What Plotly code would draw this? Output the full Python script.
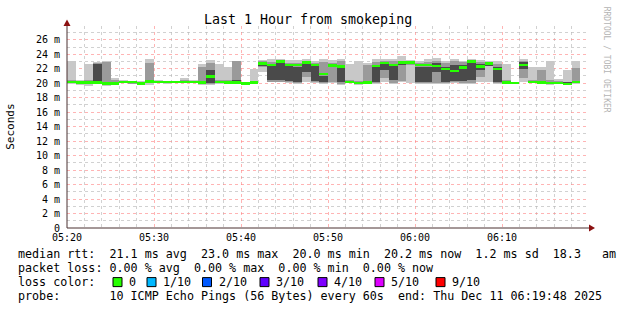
import plotly.graph_objects as go
import pandas as pd

# ---------------- data ----------------
start = pd.Timestamp("2025-12-11 05:20:00")
n_steps = 59
step_start = pd.date_range(start, periods=n_steps, freq="1min")

# outer smoke band (min .. max ping), ms
light_lo = [19.95, 19.8, 19.6, 20.0, 19.6, 19.7, 20.0, 19.9, 19.7, 19.8,
            20.0, 19.95, 20.05, 20.0, 20.0, 19.7, 19.8, 19.9, 19.95, 19.9,
            19.7, 19.9, 21.6, 20.1, 20.1, 20.0, 19.9, 20.2, 20.0, 19.9,
            20.0, 19.8, 20.0, 19.7, 19.9, 19.9, 20.1, 19.9, 20.1, 20.0,
            19.9, 19.9, 19.9, 19.9, 20.0, 19.9, 19.9, 20.1, 20.2, 19.9,
            19.9, 19.9, 20.2, 20.0, 19.9, 19.8, 19.9, 19.8, 19.9]
light_hi = [23.0, 20.5, 22.6, 22.9, 23.0, 20.7, 20.4, 20.3, 20.3, 23.4,
            20.4, 20.35, 20.35, 20.7, 20.5, 22.7, 23.2, 22.6, 22.3, 23.1,
            20.2, 22.0, 23.2, 23.3, 23.4, 23.2, 23.2, 23.3, 23.1, 23.3,
            23.2, 23.3, 22.7, 23.1, 22.8, 23.3, 23.4, 23.3, 23.7, 23.2,
            23.1, 23.4, 23.5, 23.1, 23.4, 23.1, 23.3, 23.2, 23.0, 23.1,
            22.7, 20.2, 23.3, 22.3, 22.2, 23.1, 20.6, 21.8, 23.1]
# middle smoke band
mid_lo = [20.0, 19.95, 19.9, 20.1, 19.8, 19.85, 20.05, 20.0, 19.85, 20.0,
          20.1, 20.0, 20.1, 20.05, 20.05, 19.85, 19.9, 20.0, 20.0, 19.95,
          19.8, 20.0, 22.3, 20.2, 20.2, 20.1, 20.0, 20.9, 20.1, 20.0,
          20.2, 19.95, 20.05, 19.85, 20.0, 20.0, 20.7, 20.0, 20.3, 22.5,
          20.0, 20.0, 20.0, 20.0, 20.1, 20.0, 20.0, 20.8, 22.4, 20.0,
          20.0, 19.95, 20.7, 20.05, 20.0, 19.9, 19.95, 19.85, 20.0]
mid_hi = [20.5, 20.3, 20.4, 22.8, 22.95, 20.4, 20.3, 20.25, 20.2, 22.8,
          20.3, 20.3, 20.3, 20.4, 20.3, 22.2, 22.8, 20.4, 20.4, 23.0,
          20.1, 20.3, 23.0, 22.9, 23.2, 22.8, 22.8, 23.0, 22.8, 22.9,
          22.8, 23.0, 20.5, 20.3, 22.5, 22.9, 23.1, 23.0, 23.0, 23.0,
          22.8, 22.9, 23.1, 22.8, 23.0, 22.9, 23.1, 22.9, 22.95, 22.7,
          20.4, 20.15, 23.0, 20.4, 21.8, 20.4, 20.3, 20.2, 22.1]
# inner (darkest) smoke band
dark_lo = [20.1, 20.05, 20.0, 20.2, 19.95, 19.9, 20.1, 20.05, 19.9, 20.1,
           20.15, 20.05, 20.15, 20.1, 20.1, 19.95, 20.0, 20.05, 20.05, 20.0,
           19.85, 20.05, 22.4, 20.4, 20.4, 20.3, 20.2, 21.5, 20.3, 20.1,
           22.2, 20.1, 20.1, 19.9, 20.05, 20.2, 21.8, 20.4, 22.6, 22.7,
           20.2, 20.2, 21.5, 20.2, 20.3, 20.3, 20.5, 21.8, 22.5, 20.2,
           20.05, 20.0, 22.0, 20.1, 20.05, 19.95, 20.0, 19.9, 20.05]
dark_hi = [20.3, 20.2, 20.2, 22.6, 20.2, 20.1, 20.25, 20.2, 20.1, 20.5,
           20.25, 20.25, 20.25, 20.2, 20.2, 20.3, 21.8, 20.25, 20.25, 20.4,
           20.05, 20.2, 22.6, 22.5, 22.9, 22.4, 22.3, 22.7, 22.4, 21.0,
           22.6, 22.2, 20.25, 20.1, 20.3, 22.3, 22.6, 22.4, 22.8, 22.9,
           22.3, 22.3, 22.8, 22.3, 22.5, 22.5, 22.8, 22.6, 22.6, 22.3,
           20.2, 20.1, 22.9, 20.2, 20.3, 20.1, 20.1, 20.05, 20.3]
# median rtt
median = [20.15, 20.1, 20.1, 20.1, 19.95, 19.95, 20.2, 20.15, 19.95, 20.25,
          20.2, 20.2, 20.2, 20.15, 20.15, 20.1, 20.9, 20.15, 20.1, 20.1,
          19.95, 20.1, 22.7, 22.55, 23.0, 22.55, 22.5, 22.85, 22.5, 21.25,
          22.45, 22.3, 20.15, 20.0, 20.1, 22.4, 22.8, 22.5, 22.85, 22.85,
          22.5, 22.5, 22.4, 21.95, 21.7, 22.2, 23.0, 22.3, 22.75, 21.95,
          20.1, 20.0, 22.55, 20.15, 20.1, 20.0, 20.0, 19.9, 20.15]

y_tick_vals = list(range(0, 27, 2))
y_tick_text = ["0"] + [f"{v} m" for v in range(2, 27, 2)]
x_tick_text = ["05:20", "05:30", "05:40", "05:50", "06:00", "06:10"]

summary_lines = [
    "median rtt:  21.1 ms avg  23.0 ms max  20.0 ms min  20.2 ms now  1.2 ms sd  18.3   am",
    "packet loss: 0.00 % avg  0.00 % max  0.00 % min  0.00 % now",
    "loss color:",
    "probe:       10 ICMP Echo Pings (56 Bytes) every 60s  end: Thu Dec 11 06:19:48 2025",
]
loss_labels = ["0", "1/10", "2/10", "3/10", "4/10", "5/10", "9/10"]
loss_colors = ["#26ff00", "#00b8ff", "#0059ff", "#5e00ff", "#7e00ff", "#dd00ff", "#ff0000"]

# ---------------- geometry helpers ----------------
W, H = 617, 310
ML, MR, MT, MB = 67, 28, 26.4, 82
PW, PH = W - ML - MR, H - MT - MB


def pxx(x):
    return (x - ML) / PW


def pxy(y):
    return (H - MB - y) / PH


centers = step_start + pd.Timedelta(seconds=30)
step_ms = 60000
median_h = 0.34
mono = "DejaVu Sans Mono"

fig = go.Figure()


def band(lo, hi, color):
    fig.add_trace(go.Bar(
        x=centers, base=lo, y=[h - l for l, h in zip(lo, hi)],
        width=step_ms, marker=dict(color=color, line=dict(width=0)),
        hoverinfo="skip", showlegend=False))


band(light_lo, light_hi, "#c8c8c8")
band(mid_lo, mid_hi, "#9a9a9a")
band(dark_lo, dark_hi, "#4a4a4a")
fig.add_trace(go.Bar(
    x=centers, base=[m - median_h / 2 for m in median], y=[median_h] * n_steps,
    width=step_ms, marker=dict(color=loss_colors[0], line=dict(width=0)),
    hoverinfo="skip", showlegend=False))

x_major = pd.date_range(start, periods=6, freq="10min")
x_minor = [t for t in pd.date_range(start, periods=30, freq="2min") if t.minute % 10 != 0]
major_grid = "rgba(255,130,130,0.6)"
minor_grid = "rgba(185,185,185,0.65)"

fig.update_layout(
    width=W, height=H,
    margin=dict(l=ML, r=MR, t=MT, b=MB, pad=0),
    paper_bgcolor="white", plot_bgcolor="white",
    barmode="overlay", bargap=0,
    showlegend=False,
    xaxis=dict(
        type="date", range=[start, start + pd.Timedelta(minutes=60)],
        tickmode="array", tickvals=list(x_major), ticktext=x_tick_text,
        showgrid=True, gridcolor=major_grid, griddash="dot", gridwidth=1,
        minor=dict(tickmode="array", tickvals=x_minor, showgrid=True,
                   gridcolor=minor_grid, griddash="dot", gridwidth=1),
        ticks="", ticklabelstandoff=2,
        tickfont=dict(family=mono, size=10, color="black"),
        showline=False, zeroline=False, layer="above traces", fixedrange=True,
    ),
    yaxis=dict(
        range=[0, 27.9],
        tickmode="array", tickvals=y_tick_vals, ticktext=y_tick_text,
        showgrid=True, gridcolor=major_grid, griddash="dot", gridwidth=1,
        minor=dict(tickmode="array", tickvals=list(range(1, 28, 2)), showgrid=True,
                   gridcolor=minor_grid, griddash="dot", gridwidth=1),
        ticks="", ticklabelstandoff=6,
        tickfont=dict(family=mono, size=10, color="black"),
        showline=False, zeroline=False, layer="above traces", fixedrange=True,
    ),
)

axis_col = "#4a3030"
arrow_col = "#8b1010"
shapes = [
    dict(type="line", xref="paper", yref="paper", x0=0, x1=0, y0=0, y1=pxy(25),
         line=dict(color=axis_col, width=1), layer="above"),
    dict(type="line", xref="paper", yref="paper", x0=0, x1=pxx(590), y0=0, y1=0,
         line=dict(color=axis_col, width=1), layer="above"),
    dict(type="path", xref="paper", yref="paper",
         path=f"M {pxx(67)},{pxy(20)} L {pxx(63.5)},{pxy(26.5)} L {pxx(70.5)},{pxy(26.5)} Z",
         fillcolor=arrow_col, line=dict(width=0), layer="above"),
    dict(type="path", xref="paper", yref="paper",
         path=f"M {pxx(595)},{pxy(228)} L {pxx(589)},{pxy(224.5)} L {pxx(589)},{pxy(231.5)} Z",
         fillcolor=arrow_col, line=dict(width=0), layer="above"),
]

annotations = [
    dict(text="Last 1 Hour from smokeping", x=pxx(308), y=pxy(20), xref="paper", yref="paper",
         xanchor="center", yanchor="middle", showarrow=False,
         font=dict(family=mono, size=13.3, color="black")),
    dict(text="Seconds", x=pxx(11), y=pxy(127), xref="paper", yref="paper", textangle=-90,
         xanchor="center", yanchor="middle", showarrow=False,
         font=dict(family=mono, size=11, color="black")),
    dict(text="RRDTOOL / TOBI OETIKER", x=pxx(606), y=pxy(60), xref="paper", yref="paper",
         textangle=90, xanchor="center", yanchor="middle", showarrow=False,
         font=dict(family=mono, size=8, color="#b4b4b4")),
]
line_y = [254, 268, 282, 296]
for txt, ly in zip(summary_lines, line_y):
    annotations.append(dict(text=txt.replace(" ", "&nbsp;"), x=pxx(16), y=pxy(ly),
                            xref="paper", yref="paper", xanchor="left", yanchor="middle",
                            showarrow=False, font=dict(family=mono, size=11.7, color="black")))

label_x = [127, 161, 216.5, 274, 332, 389, 450]
for lab, col, lx in zip(loss_labels, loss_colors, label_x):
    annotations.append(dict(text=lab, x=pxx(lx), y=pxy(282), xref="paper", yref="paper",
                            xanchor="left", yanchor="middle", showarrow=False,
                            font=dict(family=mono, size=11.7, color="black")))
    shapes.append(dict(type="rect", xref="paper", yref="paper",
                       x0=pxx(lx - 14), x1=pxx(lx - 5), y0=pxy(286.5), y1=pxy(277.5),
                       fillcolor=col, line=dict(color="black", width=1), layer="above"))

fig.update_layout(shapes=shapes, annotations=annotations)
fig.write_html("out.html", config={"displayModeBar": False})
